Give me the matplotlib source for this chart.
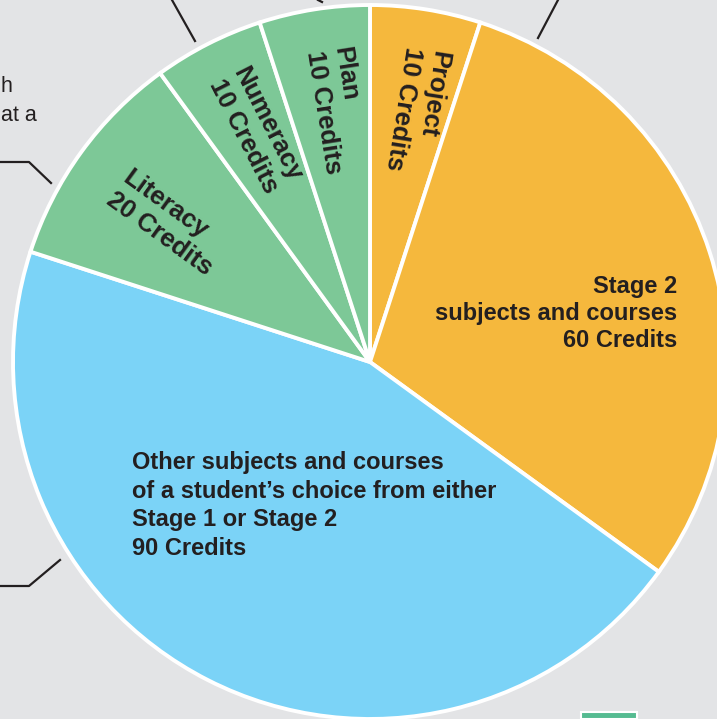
import numpy as np
import matplotlib.pyplot as plt
from matplotlib.patches import Rectangle

# SACE credit pattern
labels = ["Project", "Stage 2\nsubjects and courses", "Other subjects and courses\nof a student\u2019s choice from either\nStage 1 or Stage 2",
          "Literacy", "Numeracy", "Plan"]
credits = [10, 60, 90, 20, 10, 10]
colors = ["#f5b83d", "#f5b83d", "#7bd3f7", "#7dc897", "#7dc897", "#7dc897"]

W, H = 717, 719
bg = "#e3e4e6"
ink = "#231f20"

fig = plt.figure(figsize=(W / 100, H / 100), dpi=100, facecolor=bg)
ax = fig.add_axes([0, 0, 1, 1])
ax.set_facecolor(bg)

cx, cy, r = 370, H - 362, 357
ax.pie(credits, colors=colors, startangle=90, counterclock=False, radius=r, center=(cx, cy),
       wedgeprops=dict(edgecolor="white", linewidth=2.8), frame=False)
ax.set_xlim(0, W)
ax.set_ylim(0, H)
ax.set_aspect("auto")
ax.axis("off")

font = "Liberation Sans"

# big horizontal labels
stage2_lines = ["Stage 2", "subjects and courses", f"{credits[1]} Credits"]
for i, line in enumerate(stage2_lines):
    ax.text(677, H - (293 + 27 * i), line, ha="right", va="baseline", fontsize=17,
            fontweight="bold", color=ink, family=font)

other_lines = ["Other subjects and courses", "of a student\u2019s choice from either",
               "Stage 1 or Stage 2", f"{credits[2]} Credits"]
for i, line in enumerate(other_lines):
    ax.text(132, H - (469 + 28.7 * i), line, ha="left", va="baseline", fontsize=17,
            fontweight="bold", color=ink, family=font)

# rotated labels in the small wedges: (index, first line start in image px, rotation)
rot_specs = [(3, (121, 181), -36), (4, (233, 72), -63), (5, (334, 48), -81), (0, (433, 50), -99)]
for idx, (px, py), rot in rot_specs:
    lines = [labels[idx], f"{credits[idx]} Credits"]
    t = np.radians(rot)
    down = np.array([np.sin(t), -np.cos(t)])
    for k, line in enumerate(lines):
        x, y = np.array([px, H - py]) + 27 * k * down
        ax.text(x, y, line, rotation=rot, rotation_mode="anchor", ha="left", va="baseline",
                fontsize=18.5, fontweight="bold", color=ink, family=font)

# callout lines leading off the crop
lw = 1.6
ax.plot([172, 195], [H - 0, H - 41], color=ink, lw=lw)
ax.plot([558, 538], [H - 0, H - 38], color=ink, lw=lw)
ax.plot([318, 322], [H - 0, H - 2], color=ink, lw=lw)
ax.plot([0, 29, 51], [H - 162, H - 162, H - 183], color=ink, lw=lw)
ax.plot([0, 29, 60], [H - 586, H - 586, H - 560], color=ink, lw=lw)

# visible ends of the caption text at the left edge
ax.text(1, H - 92, "h", ha="left", va="baseline", fontsize=15.5, color=ink, family=font)
ax.text(1, H - 121, "at a", ha="left", va="baseline", fontsize=15.5, color=ink, family=font)

# small swatch at the bottom
ax.add_patch(Rectangle((581, H - 719), 56, 7, facecolor="#55bb91", edgecolor="white", lw=1.5))

fig.savefig("out.png", dpi=100, facecolor=bg)
